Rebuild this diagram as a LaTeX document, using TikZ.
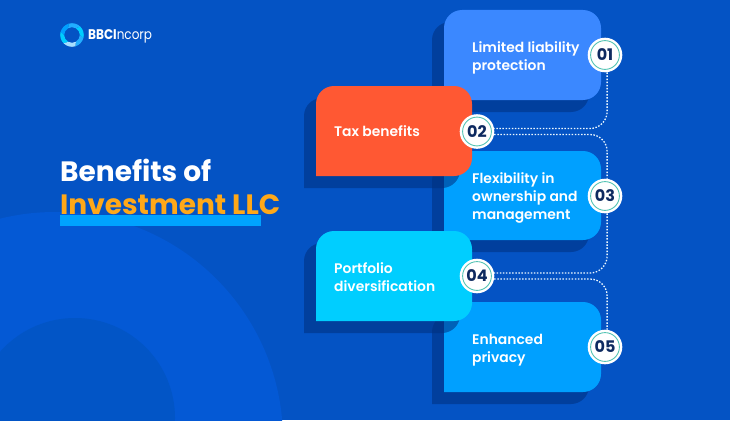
\documentclass[tikz,border=0pt]{standalone}
\usepackage{fontspec}
\setmainfont{Poppins}
\newfontfamily\popsemi{Poppins SemiBold}
\newfontfamily\popbold{Poppins}[UprightFont=* Bold]
\usetikzlibrary{calc}
\definecolor{bg}{HTML}{0453C4}
\definecolor{bigc}{HTML}{0459D5}
\definecolor{innerc}{HTML}{0255C6}
\definecolor{cardA}{HTML}{3B88FF}
\definecolor{cardB}{HTML}{FF5833}
\definecolor{cardC}{HTML}{00A0FF}
\definecolor{cardD}{HTML}{00CEFF}
\definecolor{shadowc}{HTML}{002F7E}
\definecolor{navy}{HTML}{0E2A60}
\definecolor{teal}{HTML}{55C4B4}
\definecolor{amber}{HTML}{FFA818}
\definecolor{under}{HTML}{00A3FF}
\definecolor{ringc}{HTML}{22AEFF}
\newcommand{\cardshape}[5]{%
  \fill[shadowc,opacity=.55] (#1-12,#4+12) [rounded corners=18pt] -- (#1-12,#2+12) -- (#3-12,#2+12) -- (#3-12,#4+12) [sharp corners] -- cycle;
  \fill[#5] (#1,#4) [rounded corners=18pt] -- (#1,#2) -- (#3,#2) -- (#3,#4) [sharp corners] -- cycle;
}
\tikzset{
  x=1pt,y=-1pt,
  cardtext/.style={text=white,anchor=west,align=left,font=\popsemi\fontsize{13.9}{18}\selectfont,inner sep=0pt},
  badge/.style={circle,fill=white,minimum size=34.6pt,inner sep=0pt,text=navy,font=\popbold\fontsize{16}{16}\selectfont},
  badgering/.style={draw=teal,line width=.9pt},
  dotline/.style={draw=white!92!cardC,line width=1.3pt,dash pattern=on 1.5pt off 1.6pt,rounded corners=17pt},
}
\begin{document}
\begin{tikzpicture}
\useasboundingbox (0,0) rectangle (730,420);
\begin{scope}
\clip (0,0) rectangle (730,420);
\fill[bg] (0,0) rectangle (730,420);
\fill[bigc] (55,440) circle (228);
\fill[innerc] (75,418) circle (100);
\end{scope}
% logo
\begin{scope}[shift={(72,35)}]
\foreach \a/\c in {0/ringc,60/cardD,120/ringc,180/cardC,240/cardD,300/white!60!ringc}{
  \fill[\c,rotate=\a] (7.8,0) arc (0:58:7.8) -- (75:11.8) arc (75:14:11.8) -- cycle;
}
\end{scope}
\node[anchor=west,inner sep=0pt,text=white,xscale=.86] (logo) at (88,36) {{\popbold\fontsize{14}{14}\selectfont BBCI}{\fontsize{14}{14}\selectfont ncorp}};
% title
\node[anchor=west,inner sep=0pt,text=white,font=\popbold\fontsize{28}{30}\selectfont] (title1) at (60,170.5) {Benefits of};
\node[anchor=west,inner sep=0pt,text=amber,font=\popbold\fontsize{28}{30}\selectfont] (title2) at (60,205) {Investment LLC};
\fill[under] (60,215) rectangle (261,226);
% cards
\cardshape{444}{10}{601}{100}{cardA}
\cardshape{444}{151}{601}{240}{cardC}
\cardshape{444}{302}{601}{392}{cardC}
\cardshape{316}{86}{472}{176}{cardB}
\cardshape{316}{231}{472}{321}{cardD}
\node[cardtext] (t1) at (472,57.5) {Limited liability\\protection};
\node[cardtext] (t2) at (334,131.5) {Tax benefits};
\node[cardtext] (t3) at (472,197.5) {Flexibility in\\ownership and\\management};
\node[cardtext] (t4) at (334,277.5) {Portfolio\\diversification};
\node[cardtext] (t5) at (472,350) {Enhanced\\privacy};
% badges
\node[badge] (b1) at (605,55) {01};
\node[badge] (b2) at (477,131.5) {02};
\node[badge] (b3) at (605,196) {03};
\node[badge] (b4) at (477,276) {04};
\node[badge] (b5) at (605,347) {05};
\foreach \b in {b1,b2,b3,b4,b5}{\draw[badgering] (\b.center) circle (14.4);}
\draw[dotline] (b1.-83) |- (b2.10);
\draw[dotline] (b2.-10) -| (b3.83);
\draw[dotline] (b3.-83) |- (b4.10);
\draw[dotline] (b4.-10) -| (b5.83);
\end{tikzpicture}
\end{document}
